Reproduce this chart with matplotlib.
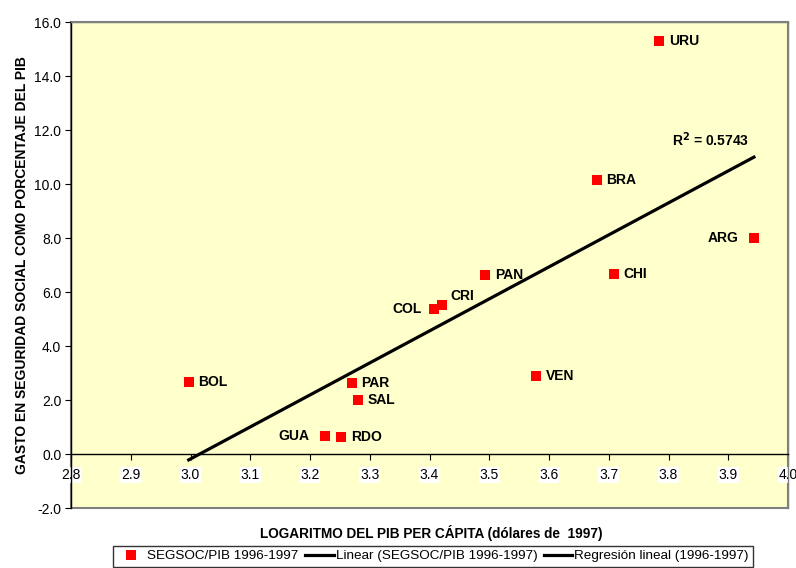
import numpy as np
import matplotlib
matplotlib.use("Agg")
import matplotlib.pyplot as plt
from matplotlib.patches import Rectangle
from matplotlib.lines import Line2D

plt.rcParams['font.family'] = ['Liberation Sans', 'DejaVu Sans']

countries = ["URU", "BRA", "ARG", "CHI", "PAN", "CRI", "COL", "VEN", "BOL", "PAR", "SAL", "GUA", "RDO"]
log_pib = [3.784, 3.680, 3.943, 3.709, 3.493, 3.421, 3.408, 3.578, 2.997, 3.270, 3.280, 3.225, 3.252]
segsoc = [15.30, 10.15, 8.00, 6.67, 6.64, 5.53, 5.38, 2.90, 2.68, 2.64, 2.01, 0.68, 0.64]
r2_text = "R$^\\mathbf{2}$ = 0.5743"
x_ticks = [2.8, 2.9, 3.0, 3.1, 3.2, 3.3, 3.4, 3.5, 3.6, 3.7, 3.8, 3.9, 4.0]
y_ticks = [-2.0, 0.0, 2.0, 4.0, 6.0, 8.0, 10.0, 12.0, 14.0, 16.0]

# label offsets in points (style)
label_offsets = {
    "ARG": (-11, 0, 'right'), "COL": (-9, 0, 'right'), "GUA": (-11, 0, 'right'),
    "CRI": (6, 6, 'left'),
}

fig = plt.figure(figsize=(7.96, 5.68), dpi=100)
ax = fig.add_axes([71/796, 1-508/568, (788-71)/796, (508-22)/568])
ax.set_facecolor('#FFFFCC')

x = np.array(log_pib)
y = np.array(segsoc)
slope, intercept = np.polyfit(x, y, 1)
xl = np.array([x.min(), x.max()])
ax.plot(xl, slope*xl + intercept, color='black', lw=2.3, zorder=3)

ax.plot(x, y, 's', color='#FF0000', markersize=7.3, zorder=4, markeredgewidth=0)

for c, xi, yi in zip(countries, log_pib, segsoc):
    dx, dy, ha = label_offsets.get(c, (7, 0, 'left'))
    ax.annotate(c, (xi, yi), xytext=(dx, dy), textcoords='offset points',
                ha=ha, va='center', fontsize=10, fontweight='bold', zorder=5)

ax.text(3.87, 11.3, r2_text, fontsize=10, fontweight='bold', ha='center', va='bottom')

ax.set_xlim(2.8, 4.0)
ax.set_ylim(-2.0, 16.0)
ax.set_xticks(x_ticks)
ax.set_yticks(y_ticks)
ax.set_xticklabels([f"{v:.1f}" for v in x_ticks])
ax.set_yticklabels([f"{v:.1f}" for v in y_ticks])

ax.spines['bottom'].set_position(('data', 0))
ax.spines['bottom'].set_color('black')
ax.spines['left'].set_color('black')
ax.spines['top'].set_color('#808080')
ax.spines['right'].set_color('#808080')
for s in ax.spines.values():
    s.set_linewidth(1.0)
ax.add_patch(Rectangle((0, 0), 1, 1, transform=ax.transAxes, fill=False,
                       edgecolor='#808080', lw=1.5, zorder=0.5, clip_on=False))

ax.tick_params(axis='x', direction='out', length=4, pad=6, labelsize=10, color='black')
ax.tick_params(axis='y', direction='out', length=4, pad=3, labelsize=10)
for lab in ax.get_xticklabels():
    lab.set_bbox(dict(facecolor='white', edgecolor='none', pad=0.5))

ax.set_ylabel("GASTO EN SEGURIDAD SOCIAL COMO PORCENTAJE DEL PIB", fontsize=10,
              fontweight='bold', labelpad=4)
fig.text(431/796, 1-533/568, "LOGARITMO DEL PIB PER CÁPITA (dólares de  1997)",
         fontsize=9.8, fontweight='bold', ha='center', va='center')

handles = [
    Line2D([], [], marker='s', color='#FF0000', linestyle='none', markersize=7.3, markeredgewidth=0),
    Line2D([], [], color='black', lw=2.3),
    Line2D([], [], color='black', lw=2.3),
]
labels = ["SEGSOC/PIB 1996-1997", "Linear (SEGSOC/PIB 1996-1997)", "Regresión lineal (1996-1997)"]
leg = fig.legend(handles, labels, loc='upper center', bbox_to_anchor=(433/796, 1-546/568),
                 ncol=3, fontsize=9.7, frameon=True, fancybox=False, edgecolor='black',
                 handlelength=2.1, handletextpad=0.15, columnspacing=0.5, borderpad=0.3,
                 borderaxespad=0)
leg.get_frame().set_linewidth(1.0)

fig.savefig("out.png", dpi=100)
